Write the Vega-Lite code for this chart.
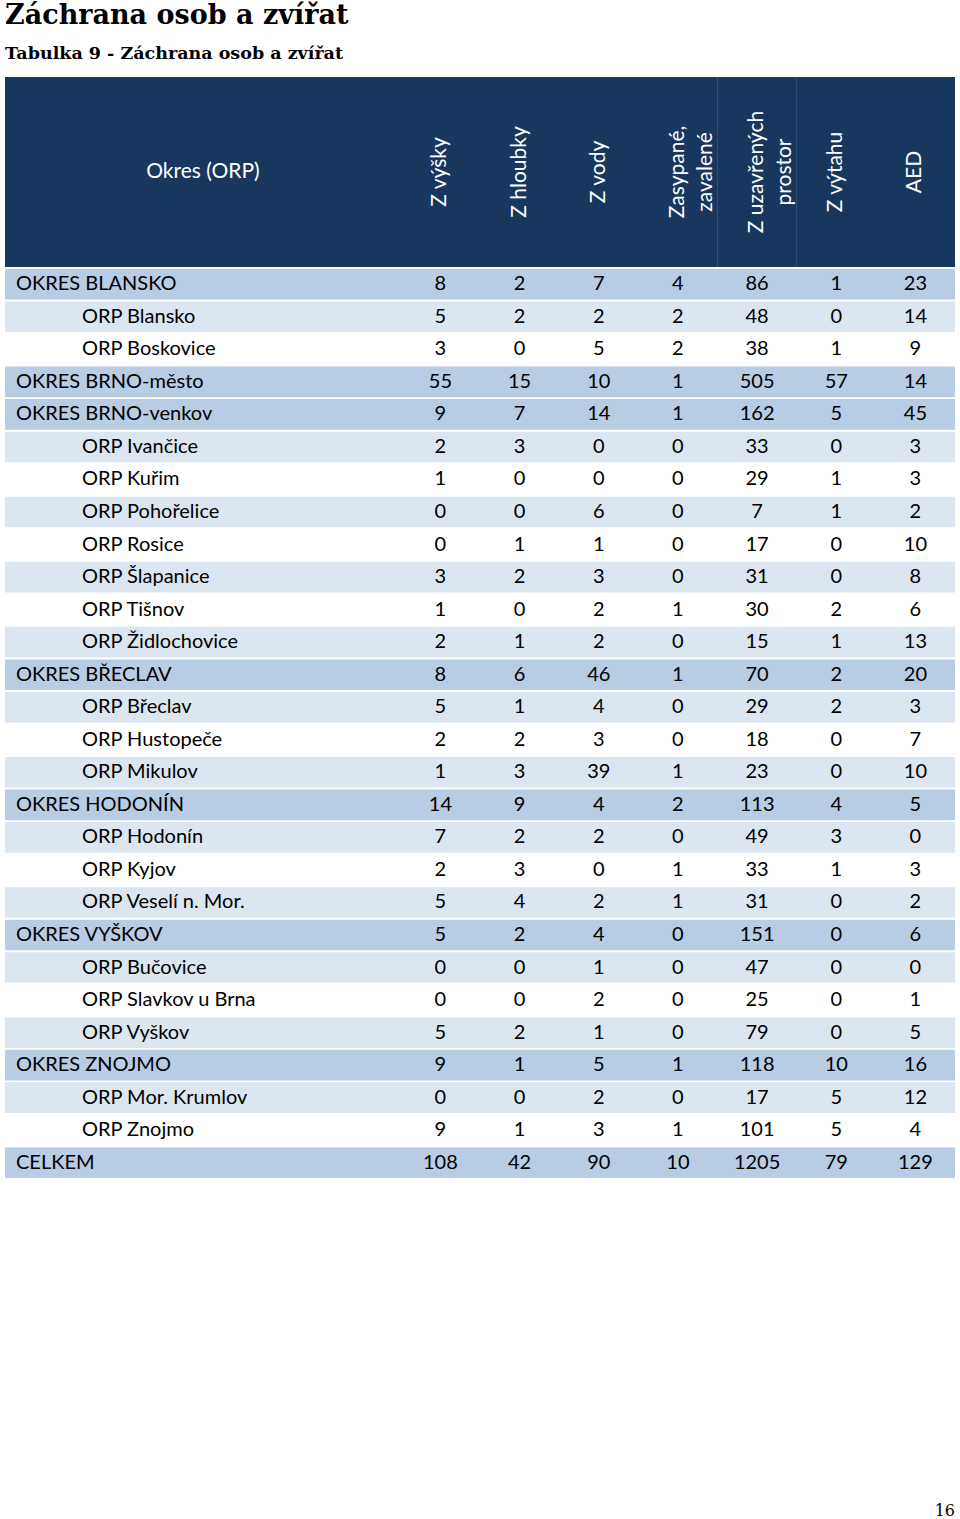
{
  "$schema": "https://vega.github.io/schema/vega-lite/v6.json",
  "padding": {"left": 5, "right": 5, "top": 2, "bottom": 0},
  "background": "#ffffff",
  "title": {
    "text": "Záchrana osob a zvířat",
    "subtitle": "Tabulka 9 - Záchrana osob a zvířat",
    "anchor": "start",
    "font": "DejaVu Serif",
    "fontSize": 27,
    "fontWeight": "bold",
    "color": "#000000",
    "subtitleFont": "DejaVu Serif",
    "subtitleFontSize": 17.5,
    "subtitleFontWeight": "bold",
    "subtitleColor": "#000000",
    "subtitlePadding": 15,
    "offset": 13
  },
  "config": {"view": {"stroke": null}},
  "spacing": 0,
  "datasets": {
    "sloupce": [
      {"k": "vyska", "t": "Z výšky"},
      {"k": "hloubka", "t": "Z hloubky"},
      {"k": "voda", "t": "Z vody"},
      {"k": "zasyp", "t": "Zasypané,\nzavalené"},
      {"k": "uzavr", "t": "Z uzavřených\nprostor"},
      {"k": "vytah", "t": "Z výtahu"},
      {"k": "aed", "t": "AED"}
    ],
    "tabulka": [
      {"nazev": "OKRES BLANSKO", "uroven": "okres", "okres": "BLANSKO", "vyska": 8, "hloubka": 2, "voda": 7, "zasyp": 4, "uzavr": 86, "vytah": 1, "aed": 23},
      {"nazev": "ORP Blansko", "uroven": "orp", "okres": "BLANSKO", "vyska": 5, "hloubka": 2, "voda": 2, "zasyp": 2, "uzavr": 48, "vytah": 0, "aed": 14},
      {"nazev": "ORP Boskovice", "uroven": "orp", "okres": "BLANSKO", "vyska": 3, "hloubka": 0, "voda": 5, "zasyp": 2, "uzavr": 38, "vytah": 1, "aed": 9},
      {"nazev": "OKRES BRNO-město", "uroven": "okres", "okres": "BRNO-město", "vyska": 55, "hloubka": 15, "voda": 10, "zasyp": 1, "uzavr": 505, "vytah": 57, "aed": 14},
      {"nazev": "OKRES BRNO-venkov", "uroven": "okres", "okres": "BRNO-venkov", "vyska": 9, "hloubka": 7, "voda": 14, "zasyp": 1, "uzavr": 162, "vytah": 5, "aed": 45},
      {"nazev": "ORP Ivančice", "uroven": "orp", "okres": "BRNO-venkov", "vyska": 2, "hloubka": 3, "voda": 0, "zasyp": 0, "uzavr": 33, "vytah": 0, "aed": 3},
      {"nazev": "ORP Kuřim", "uroven": "orp", "okres": "BRNO-venkov", "vyska": 1, "hloubka": 0, "voda": 0, "zasyp": 0, "uzavr": 29, "vytah": 1, "aed": 3},
      {"nazev": "ORP Pohořelice", "uroven": "orp", "okres": "BRNO-venkov", "vyska": 0, "hloubka": 0, "voda": 6, "zasyp": 0, "uzavr": 7, "vytah": 1, "aed": 2},
      {"nazev": "ORP Rosice", "uroven": "orp", "okres": "BRNO-venkov", "vyska": 0, "hloubka": 1, "voda": 1, "zasyp": 0, "uzavr": 17, "vytah": 0, "aed": 10},
      {"nazev": "ORP Šlapanice", "uroven": "orp", "okres": "BRNO-venkov", "vyska": 3, "hloubka": 2, "voda": 3, "zasyp": 0, "uzavr": 31, "vytah": 0, "aed": 8},
      {"nazev": "ORP Tišnov", "uroven": "orp", "okres": "BRNO-venkov", "vyska": 1, "hloubka": 0, "voda": 2, "zasyp": 1, "uzavr": 30, "vytah": 2, "aed": 6},
      {"nazev": "ORP Židlochovice", "uroven": "orp", "okres": "BRNO-venkov", "vyska": 2, "hloubka": 1, "voda": 2, "zasyp": 0, "uzavr": 15, "vytah": 1, "aed": 13},
      {"nazev": "OKRES BŘECLAV", "uroven": "okres", "okres": "BŘECLAV", "vyska": 8, "hloubka": 6, "voda": 46, "zasyp": 1, "uzavr": 70, "vytah": 2, "aed": 20},
      {"nazev": "ORP Břeclav", "uroven": "orp", "okres": "BŘECLAV", "vyska": 5, "hloubka": 1, "voda": 4, "zasyp": 0, "uzavr": 29, "vytah": 2, "aed": 3},
      {"nazev": "ORP Hustopeče", "uroven": "orp", "okres": "BŘECLAV", "vyska": 2, "hloubka": 2, "voda": 3, "zasyp": 0, "uzavr": 18, "vytah": 0, "aed": 7},
      {"nazev": "ORP Mikulov", "uroven": "orp", "okres": "BŘECLAV", "vyska": 1, "hloubka": 3, "voda": 39, "zasyp": 1, "uzavr": 23, "vytah": 0, "aed": 10},
      {"nazev": "OKRES HODONÍN", "uroven": "okres", "okres": "HODONÍN", "vyska": 14, "hloubka": 9, "voda": 4, "zasyp": 2, "uzavr": 113, "vytah": 4, "aed": 5},
      {"nazev": "ORP Hodonín", "uroven": "orp", "okres": "HODONÍN", "vyska": 7, "hloubka": 2, "voda": 2, "zasyp": 0, "uzavr": 49, "vytah": 3, "aed": 0},
      {"nazev": "ORP Kyjov", "uroven": "orp", "okres": "HODONÍN", "vyska": 2, "hloubka": 3, "voda": 0, "zasyp": 1, "uzavr": 33, "vytah": 1, "aed": 3},
      {"nazev": "ORP Veselí n. Mor.", "uroven": "orp", "okres": "HODONÍN", "vyska": 5, "hloubka": 4, "voda": 2, "zasyp": 1, "uzavr": 31, "vytah": 0, "aed": 2},
      {"nazev": "OKRES VYŠKOV", "uroven": "okres", "okres": "VYŠKOV", "vyska": 5, "hloubka": 2, "voda": 4, "zasyp": 0, "uzavr": 151, "vytah": 0, "aed": 6},
      {"nazev": "ORP Bučovice", "uroven": "orp", "okres": "VYŠKOV", "vyska": 0, "hloubka": 0, "voda": 1, "zasyp": 0, "uzavr": 47, "vytah": 0, "aed": 0},
      {"nazev": "ORP Slavkov u Brna", "uroven": "orp", "okres": "VYŠKOV", "vyska": 0, "hloubka": 0, "voda": 2, "zasyp": 0, "uzavr": 25, "vytah": 0, "aed": 1},
      {"nazev": "ORP Vyškov", "uroven": "orp", "okres": "VYŠKOV", "vyska": 5, "hloubka": 2, "voda": 1, "zasyp": 0, "uzavr": 79, "vytah": 0, "aed": 5},
      {"nazev": "OKRES ZNOJMO", "uroven": "okres", "okres": "ZNOJMO", "vyska": 9, "hloubka": 1, "voda": 5, "zasyp": 1, "uzavr": 118, "vytah": 10, "aed": 16},
      {"nazev": "ORP Mor. Krumlov", "uroven": "orp", "okres": "ZNOJMO", "vyska": 0, "hloubka": 0, "voda": 2, "zasyp": 0, "uzavr": 17, "vytah": 5, "aed": 12},
      {"nazev": "ORP Znojmo", "uroven": "orp", "okres": "ZNOJMO", "vyska": 9, "hloubka": 1, "voda": 3, "zasyp": 1, "uzavr": 101, "vytah": 5, "aed": 4},
      {"nazev": "CELKEM", "uroven": "celkem", "okres": "CELKEM", "vyska": 108, "hloubka": 42, "voda": 90, "zasyp": 10, "uzavr": 1205, "vytah": 79, "aed": 129}
    ]
  },
  "vconcat": [
    {
      "width": 950,
      "height": 190,
      "view": {"fill": "#17375E", "stroke": null},
      "layer": [
        {
          "data": {"name": "sloupce"},
          "transform": [{"filter": "datum.k === 'uzavr' || datum.k === 'vytah'"}],
          "mark": {"type": "rule", "stroke": "#2E5079", "strokeWidth": 1},
          "encoding": {
            "x": {"field": "k", "type": "nominal", "bandPosition": 0, "axis": null,
              "scale": {"type": "band", "domain": ["c0", "c1", "c2", "c3", "c4", "vyska", "hloubka", "voda", "zasyp", "uzavr", "vytah", "aed"], "paddingInner": 0, "paddingOuter": 0}}
          }
        },
        {
          "data": {"name": "sloupce"},
          "mark": {"type": "text", "angle": 270, "align": "center", "baseline": "middle", "lineBreak": "\n", "lineHeight": 28, "font": "Lato", "fontSize": 21, "color": "#FFFFFF"},
          "encoding": {
            "x": {"field": "k", "type": "nominal", "bandPosition": 0.5, "axis": null,
              "scale": {"type": "band", "domain": ["c0", "c1", "c2", "c3", "c4", "vyska", "hloubka", "voda", "zasyp", "uzavr", "vytah", "aed"], "paddingInner": 0, "paddingOuter": 0}},
            "text": {"field": "t", "type": "nominal"}
          }
        },
        {
          "data": {"values": [{"t": "Okres (ORP)"}]},
          "mark": {"type": "text", "align": "center", "baseline": "middle", "font": "Lato", "fontSize": 21, "color": "#FFFFFF"},
          "encoding": {
            "x": {"datum": "c2", "type": "nominal", "bandPosition": 0.5, "axis": null},
            "text": {"field": "t", "type": "nominal"}
          }
        }
      ]
    },
    {
      "width": 950,
      "height": 911,
      "data": {"name": "tabulka"},
      "title": {"text": "16", "orient": "bottom", "anchor": "end", "offset": 324, "font": "DejaVu Serif", "fontSize": 16, "fontWeight": "normal", "color": "#000000"},
      "layer": [
        {
          "transform": [
            {"window": [{"op": "row_number", "as": "n"}], "groupby": ["okres"]},
            {"calculate": "datum.uroven === 'orp' ? (datum.n % 2 === 0 ? 'svetly' : 'bily') : 'tmavy'", "as": "pruh"}
          ],
          "mark": {"type": "rect"},
          "encoding": {
            "y": {"field": "nazev", "type": "nominal", "sort": null, "axis": null,
              "scale": {"type": "band", "paddingInner": 0.06, "paddingOuter": 0.03}},
            "color": {"field": "pruh", "type": "nominal", "legend": null,
              "scale": {"domain": ["tmavy", "svetly", "bily"], "range": ["#B8CCE4", "#DCE6F1", "#FFFFFF"]}}
          }
        },
        {
          "transform": [{"filter": "datum.uroven !== 'orp'"}],
          "mark": {"type": "text", "align": "left", "baseline": "middle", "dx": 11, "font": "Lato", "fontSize": 20, "color": "#000000"},
          "encoding": {
            "y": {"field": "nazev", "type": "nominal", "sort": null, "axis": null},
            "x": {"datum": "c0", "type": "nominal", "bandPosition": 0, "axis": null,
              "scale": {"type": "band", "domain": ["c0", "c1", "c2", "c3", "c4", "vyska", "hloubka", "voda", "zasyp", "uzavr", "vytah", "aed"], "paddingInner": 0, "paddingOuter": 0}},
            "text": {"field": "nazev", "type": "nominal"}
          }
        },
        {
          "transform": [{"filter": "datum.uroven === 'orp'"}],
          "mark": {"type": "text", "align": "left", "baseline": "middle", "dx": 77, "font": "Lato", "fontSize": 20, "color": "#000000"},
          "encoding": {
            "y": {"field": "nazev", "type": "nominal", "sort": null, "axis": null},
            "x": {"datum": "c0", "type": "nominal", "bandPosition": 0, "axis": null},
            "text": {"field": "nazev", "type": "nominal"}
          }
        },
        {
          "transform": [{"fold": ["vyska", "hloubka", "voda", "zasyp", "uzavr", "vytah", "aed"], "as": ["k", "v"]}],
          "mark": {"type": "text", "align": "center", "baseline": "middle", "font": "Lato", "fontSize": 20, "color": "#000000"},
          "encoding": {
            "y": {"field": "nazev", "type": "nominal", "sort": null, "axis": null},
            "x": {"field": "k", "type": "nominal", "bandPosition": 0.5, "axis": null},
            "text": {"field": "v", "type": "quantitative", "format": "d"}
          }
        }
      ]
    }
  ]
}
